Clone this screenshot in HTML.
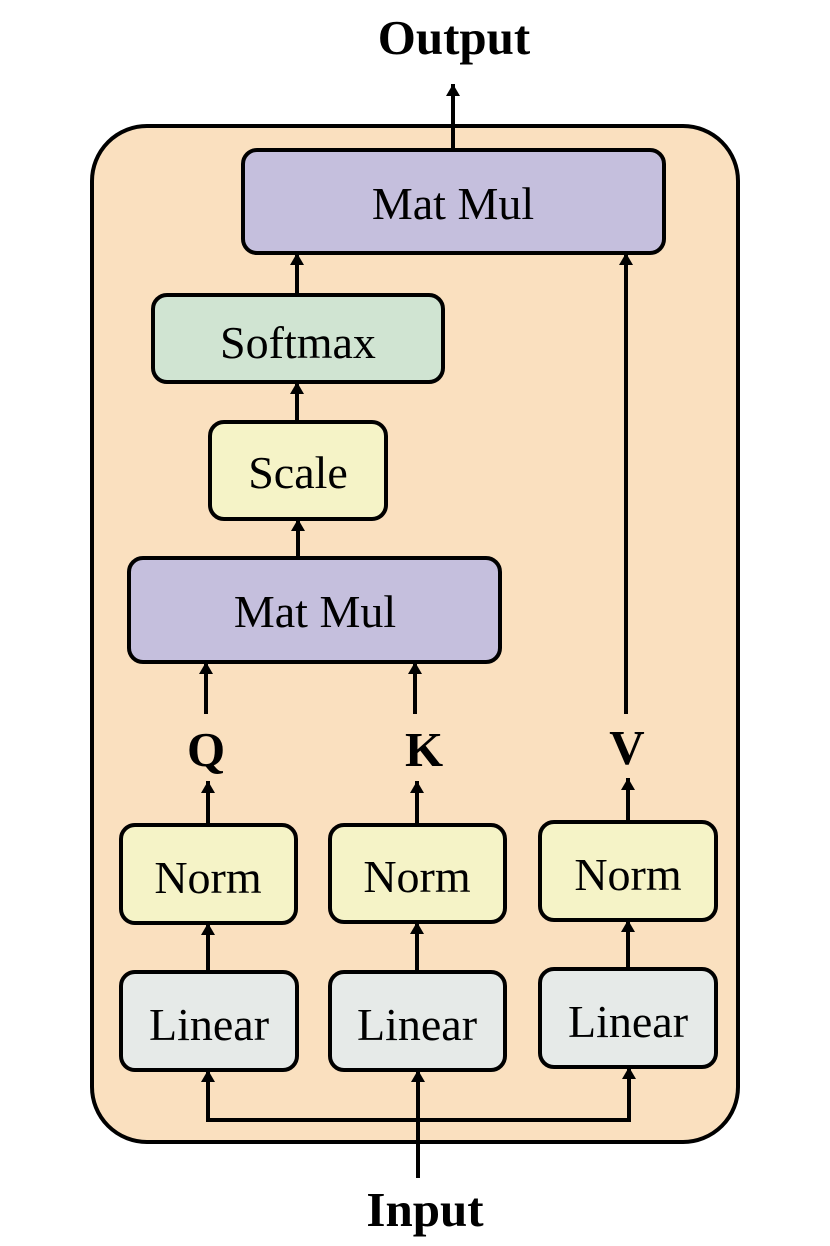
<!DOCTYPE html>
<html><head><style>body{margin:0;background:#fff}svg{display:block}</style></head><body>
<svg width="830" height="1246" viewBox="0 0 830 1246" xmlns="http://www.w3.org/2000/svg">
<defs><marker id="a" viewBox="0 0 12 14" refX="12" refY="7" markerWidth="12" markerHeight="14" markerUnits="userSpaceOnUse" orient="auto"><path d="M0,0L12,7L0,14z" fill="#000"/></marker></defs>
<rect x="92" y="126" width="646" height="1016" rx="55" fill="#fae0bf" stroke="#000" stroke-width="4"/>
<g stroke="#000" stroke-width="4">
<rect x="243" y="150" width="421" height="103" rx="14" fill="#c5bfdd"/>
<rect x="153" y="295" width="290" height="87" rx="14" fill="#d0e4d2"/>
<rect x="210" y="422" width="176" height="97" rx="14" fill="#f5f3c7"/>
<rect x="129" y="558" width="371" height="104" rx="14" fill="#c5bfdd"/>
<rect x="121" y="825" width="175" height="98" rx="14" fill="#f5f3c7"/>
<rect x="330" y="825" width="175" height="97" rx="14" fill="#f5f3c7"/>
<rect x="540" y="822" width="176" height="98" rx="14" fill="#f5f3c7"/>
<rect x="121" y="972" width="176" height="98" rx="14" fill="#e6eae8"/>
<rect x="330" y="972" width="175" height="98" rx="14" fill="#e6eae8"/>
<rect x="540" y="969" width="176" height="98" rx="14" fill="#e6eae8"/>
</g>
<g stroke="#000" stroke-width="4" fill="none" marker-end="url(#a)">
<line x1="453" y1="150" x2="453" y2="84"/>
<line x1="297" y1="295" x2="297" y2="253"/>
<line x1="297" y1="422" x2="297" y2="382"/>
<line x1="298" y1="558" x2="298" y2="519"/>
<line x1="206" y1="714" x2="206" y2="662"/>
<line x1="415" y1="714" x2="415" y2="662"/>
<line x1="626" y1="714" x2="626" y2="253"/>
<line x1="208" y1="825" x2="208" y2="781"/>
<line x1="417" y1="825" x2="417" y2="781"/>
<line x1="628" y1="822" x2="628" y2="778"/>
<line x1="208" y1="972" x2="208" y2="923"/>
<line x1="417" y1="972" x2="417" y2="922"/>
<line x1="628" y1="969" x2="628" y2="920"/>
<line x1="418" y1="1178" x2="418" y2="1070"/>
<polyline points="418,1120 208,1120 208,1070"/>
<polyline points="418,1120 629,1120 629,1067"/>
</g>
<g font-family="Liberation Serif, serif" font-size="46" text-anchor="middle" fill="#000">
<text x="453" y="219">Mat Mul</text>
<text x="298" y="358">Softmax</text>
<text x="298" y="488">Scale</text>
<text x="315" y="627">Mat Mul</text>
<text x="208" y="893">Norm</text>
<text x="417" y="892">Norm</text>
<text x="628" y="890">Norm</text>
<text x="209" y="1040">Linear</text>
<text x="417" y="1040">Linear</text>
<text x="628" y="1037">Linear</text>
<g font-weight="bold" font-size="49">
<text x="454" y="54">Output</text>
<text x="425" y="1226">Input</text>
<text x="206" y="766">Q</text>
<text x="424" y="766">K</text>
<text x="627" y="764">V</text>
</g></g>
</svg>
</body></html>
